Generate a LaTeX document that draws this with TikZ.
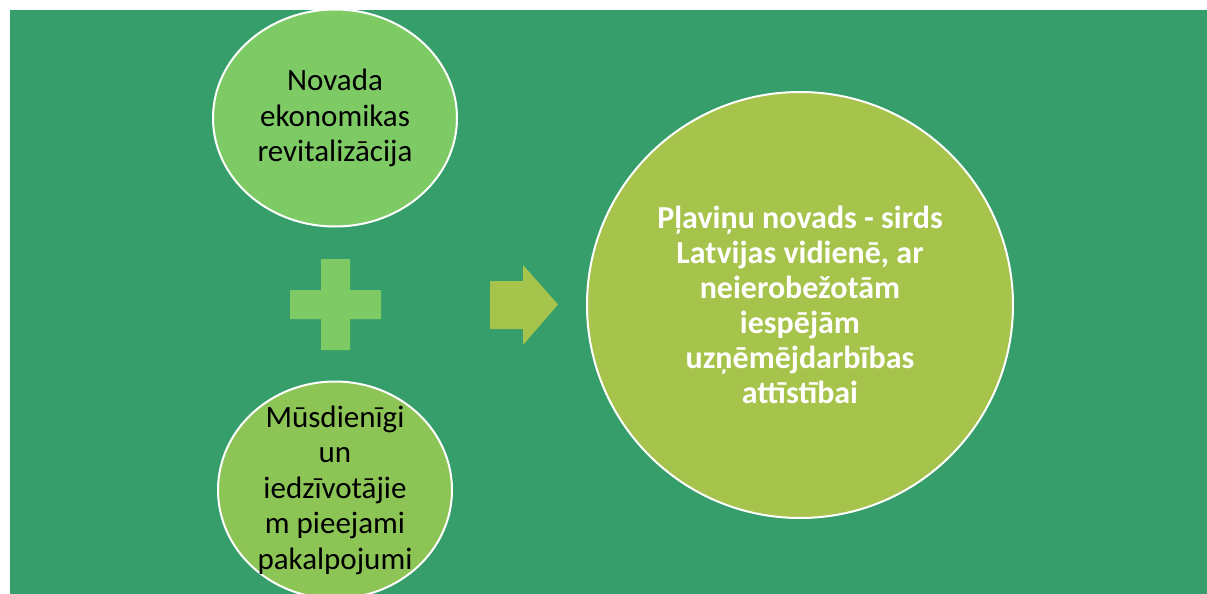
\documentclass[tikz,border=0pt]{standalone}
\usepackage{fontspec}
\setmainfont{Carlito}
\usetikzlibrary{shapes.geometric}
\definecolor{bggreen}{RGB}{54,158,107}
\definecolor{leafgreen}{RGB}{126,203,102}
\definecolor{grassgreen}{RGB}{140,197,86}
\definecolor{limegreen}{RGB}{166,195,75}

\begin{document}
\begin{tikzpicture}[x=0.5pt,y=-0.5pt,font=\fontsize{15.5}{17.75}\selectfont]
      \tikzstyle{blob}=[ellipse,draw=white,line width=1pt,inner sep=0pt]
      \tikzstyle{ball}=[circle,draw=white,line width=1pt,inner sep=0pt]
      \tikzstyle{txt}=[align=center,text=black,inner sep=0pt]
      \tikzstyle{bold txt}=[align=center,text=white,inner sep=0pt,
                            font=\fontsize{16}{17.5}\selectfont\bfseries]

      \fill[white] (0,0) rectangle (1207,594);
      \useasboundingbox (0,0) rectangle (1207,594);
      \fill[bggreen] (10,10) rectangle (1207,594);

      \node[blob,fill=leafgreen,minimum width=122pt,minimum height=108.5pt] (A) at (335,118) {};
      \node[blob,fill=grassgreen,minimum width=117pt,minimum height=108.5pt] (B) at (335,490) {};
      \node[ball,fill=limegreen,minimum size=213pt] (C) at (800,305) {};

      \node[txt] (At) at (A) {Novada\\ekonomikas\\revitalizācija};
      \node[txt] (Bt) at (B) {Mūsdienīgi\\un\\iedzīvotājie\\m pieejami\\pakalpojumi};
      \node[bold txt] (Ct) at (C) {Pļaviņu novads - sirds\\Latvijas vidienē, ar\\neierobežotām\\iespējām\\uzņēmējdarbības\\attīstībai};

      \fill[leafgreen] (321,259) rectangle (350,350) (290,290) rectangle (381,319);
      \fill[limegreen] (490,281) -- (523,281) -- (523,265) -- (558,304.5)
                       -- (523,345) -- (523,329) -- (490,329) -- cycle;

\end{tikzpicture}
\end{document}
